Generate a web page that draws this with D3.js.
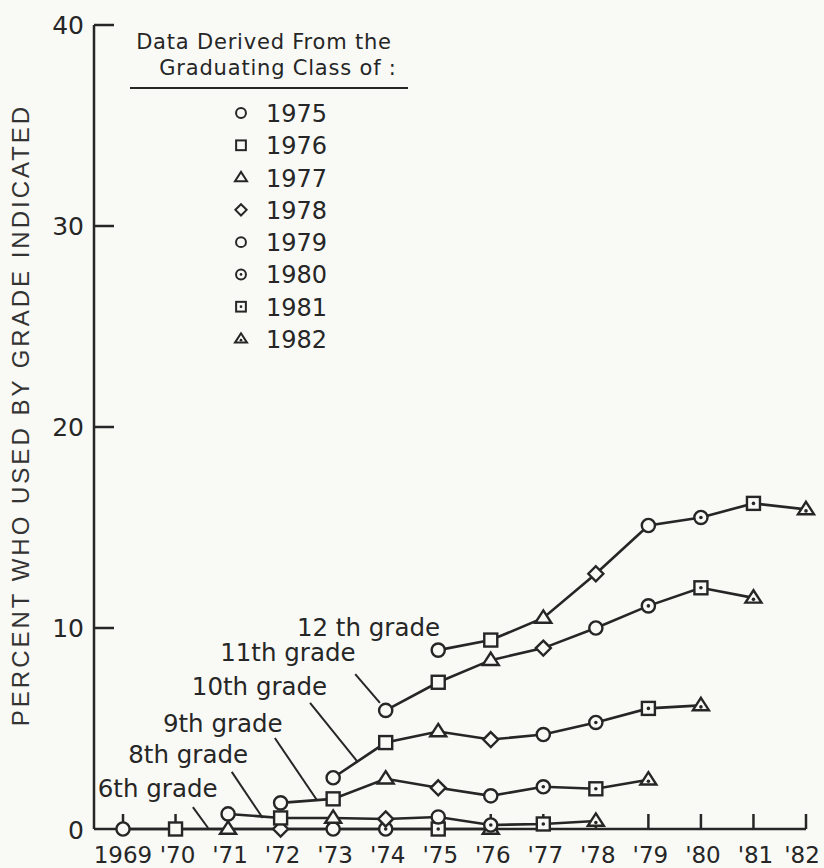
<!DOCTYPE html>
<html>
<head>
<meta charset="utf-8">
<script src="https://cdn.jsdelivr.net/npm/d3@7"></script>
<style>
  body { margin: 0; background: #f9faf6; }
  svg { display: block; }
  text { font-family: "DejaVu Sans", sans-serif; fill: #262626; }
</style>
</head>
<body>
<svg width="824" height="868"></svg>
<script>
// calendar years on the x axis
var years = [1969, 1970, 1971, 1972, 1973, 1974, 1975, 1976, 1977, 1978, 1979, 1980, 1981, 1982];
var yearLabels = ["1969", "'70", "'71", "'72", "'73", "'74", "'75", "'76", "'77", "'78", "'79", "'80", "'81", "'82"];
var yTicks = [0, 10, 20, 30, 40];

// graduating classes and their marker
var classes = [1975, 1976, 1977, 1978, 1979, 1980, 1981, 1982];
var classShapes = ["circle", "square", "triangle", "diamond", "circle", "circledot", "squaredot", "triangledot"];

// percent who used, by grade, one value per class 1975..1982
var grade12 = [8.9, 9.4, 10.5, 12.7, 15.1, 15.5, 16.2, 15.9];
var grade11 = [5.9, 7.3, 8.4, 9.0, 10.0, 11.1, 12.0, 11.5];
var grade10 = [2.55, 4.3, 4.85, 4.45, 4.7, 5.3, 6.0, 6.15];
var grade9 = [1.3, 1.5, 2.5, 2.05, 1.65, 2.1, 2.0, 2.45];
var grade8 = [0.75, 0.55, 0.55, 0.5, 0.6, 0.2, 0.25, 0.4];
var grade6 = [0, 0, 0, 0, 0, 0, 0, 0];

var grades = [
  {grade: 12, label: "12 th grade", values: grade12},
  {grade: 11, label: "11th grade", values: grade11},
  {grade: 10, label: "10th grade", values: grade10},
  {grade: 9, label: "9th grade", values: grade9},
  {grade: 8, label: "8th grade", values: grade8},
  {grade: 6, label: "6th grade", values: grade6}
];

// label text position and leader line, in data units (year, percent)
var labelPos = {
  12: {x: 1972.31, y: 9.6, leader: null},
  11: {x: 1970.85, y: 8.36, leader: [1973.42, 7.71, 1973.89, 6.27]},
  10: {x: 1970.31, y: 6.67, leader: [1972.56, 6.27, 1973.47, 3.33]},
  9: {x: 1969.76, y: 4.83, leader: [1971.89, 4.53, 1972.69, 1.44]},
  8: {x: 1969.1, y: 3.28, leader: [1971.07, 2.84, 1971.66, 0.55]},
  6: {x: 1968.52, y: 1.59, leader: [1970.33, 1.09, 1970.62, 0.05]}
};

var svg = d3.select("svg");
var ink = "#262626";
var bg = "#f9faf6";

var x = d3.scaleLinear().domain([1969, 1982]).range([123, 806]);
var y = d3.scaleLinear().domain([0, 40]).range([829, 25]);
var axisX = 94;

// axes
var axes = svg.append("g").attr("stroke", ink).attr("stroke-width", 2.5).attr("fill", "none");
axes.append("line").attr("x1", axisX).attr("x2", axisX).attr("y1", y(40)).attr("y2", y(0));
axes.append("line").attr("x1", axisX).attr("x2", x(1982)).attr("y1", y(0)).attr("y2", y(0));
axes.selectAll(".yt").data(yTicks.slice(1)).enter().append("line")
  .attr("x1", axisX).attr("x2", axisX + 20)
  .attr("y1", function(d) { return y(d); }).attr("y2", function(d) { return y(d); });
axes.selectAll(".xt").data(years).enter().append("line")
  .attr("x1", function(d) { return x(d); }).attr("x2", function(d) { return x(d); })
  .attr("y1", y(0)).attr("y2", y(0) - 15);

svg.selectAll(".ylab").data(yTicks).enter().append("text")
  .attr("x", 84).attr("y", function(d) { return y(d) + (d == 0 ? 10 : 9); })
  .attr("text-anchor", "end").attr("font-size", 25)
  .text(function(d) { return d; });

svg.selectAll(".xlab").data(years).enter().append("text")
  .attr("x", function(d, i) { return i == years.length - 1 ? x(d) - 4 : x(d) + (i == 0 ? 0 : 2); })
  .attr("y", 863)
  .attr("text-anchor", "middle").attr("font-size", 23)
  .text(function(d, i) { return yearLabels[i]; });

svg.append("text")
  .attr("transform", "translate(29,415) rotate(-90)")
  .attr("text-anchor", "middle")
  .attr("font-size", 24)
  .attr("letter-spacing", 3)
  .style("font-family", "'Liberation Sans', Arial, sans-serif")
  .style("fill", "#333")
  .text("PERCENT WHO USED BY GRADE INDICATED");

// marker drawing
function drawMarker(g, shape, s) {
  var base = shape.replace("dot", "");
  if (base == "circle") {
    g.append("circle").attr("r", 6.6 * s);
  } else if (base == "square") {
    g.append("rect").attr("x", -6.5 * s).attr("y", -6.5 * s).attr("width", 13 * s).attr("height", 13 * s);
  } else if (base == "triangle") {
    var a = 8 * s;
    g.append("path").attr("d", "M0," + (-a * 0.95) + "L" + a + "," + (a * 0.6) + "L" + (-a) + "," + (a * 0.6) + "Z");
  } else if (base == "diamond") {
    var b = 7.5 * s;
    g.append("path").attr("d", "M0," + (-b) + "L" + b + ",0L0," + b + "L" + (-b) + ",0Z");
  }
  if (shape.indexOf("dot") > 0) {
    g.append("circle").attr("r", 1.8 * s).attr("fill", ink).attr("stroke", "none")
      .attr("cy", base == "triangle" ? 1.5 * s : 0);
  }
}

// lines and markers per grade
var line = d3.line()
  .x(function(d) { return x(d.year); })
  .y(function(d) { return y(d.value); });

var series = grades.map(function(g) {
  return {
    grade: g.grade,
    label: g.label,
    points: g.values.map(function(v, i) {
      return {year: classes[i] - (12 - g.grade), value: v, shape: classShapes[i]};
    })
  };
});

var lineG = svg.append("g").attr("fill", "none").attr("stroke", ink).attr("stroke-width", 2.6);
lineG.selectAll("path").data(series).enter().append("path")
  .attr("d", function(d) { return line(d.points); });

// annotations
series.forEach(function(s) {
  var p = labelPos[s.grade];
  svg.append("text").attr("x", x(p.x)).attr("y", y(p.y))
    .attr("font-size", 24.5).text(s.label);
  if (p.leader) {
    svg.append("line")
      .attr("x1", x(p.leader[0])).attr("y1", y(p.leader[1]))
      .attr("x2", x(p.leader[2])).attr("y2", y(p.leader[3]))
      .attr("stroke", ink).attr("stroke-width", 2);
  }
});

var markG = svg.append("g").attr("fill", bg).attr("stroke", ink).attr("stroke-width", 2.4);
series.slice().reverse().forEach(function(s) {
  s.points.forEach(function(p) {
    var g = markG.append("g").attr("transform", "translate(" + x(p.year) + "," + y(p.value) + ")");
    drawMarker(g, p.shape, 1);
  });
});

// legend
var leg = svg.append("g");
leg.append("text").attr("x", 264).attr("y", 49).attr("text-anchor", "middle").attr("font-size", 21)
  .attr("letter-spacing", 0.8).text("Data Derived From the");
leg.append("text").attr("x", 278).attr("y", 75).attr("text-anchor", "middle").attr("font-size", 21)
  .attr("letter-spacing", 0.8).text("Graduating Class of :");
leg.append("line").attr("x1", 130).attr("x2", 408).attr("y1", 88).attr("y2", 88)
  .attr("stroke", ink).attr("stroke-width", 2);

var legY = d3.scaleLinear().domain([0, 7]).range([113, 339]);
classes.forEach(function(c, i) {
  var g = leg.append("g").attr("transform", "translate(241," + legY(i) + ")")
    .attr("fill", bg).attr("stroke", ink).attr("stroke-width", 2);
  drawMarker(g, classShapes[i], 0.75);
  leg.append("text").attr("x", 266).attr("y", legY(i) + 9).attr("font-size", 24).text(c);
});
</script>
</body>
</html>
